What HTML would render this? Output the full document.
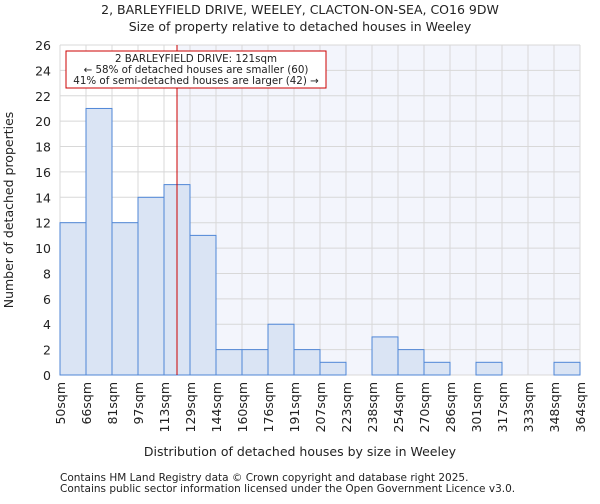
<!DOCTYPE html>
<html><head><meta charset="utf-8"><style>
body{margin:0;background:#fff;font-family:"DejaVu Sans","Liberation Sans",sans-serif;}
svg text{font-family:"DejaVu Sans","Liberation Sans",sans-serif;fill:#222}
</style></head><body>
<svg id="c" width="600" height="500"></svg>
<script>
const bins=["50sqm","66sqm","81sqm","97sqm","113sqm","129sqm","144sqm","160sqm","176sqm","191sqm","207sqm","223sqm","238sqm","254sqm","270sqm","286sqm","301sqm","317sqm","333sqm","348sqm","364sqm"];
const counts=[12,21,12,14,15,11,2,2,4,2,1,0,3,2,1,0,1,0,0,1];
const yTicks=[0,2,4,6,8,10,12,14,16,18,20,22,24,26];
const propIndex=4.5;
const svg=document.getElementById('c');const NS="http://www.w3.org/2000/svg";
const L=60,R=580,T=45,B=375,yMax=26;
const x=i=>L+(R-L)*i/counts.length;
const y=v=>B-(B-T)*v/yMax;
function mk(t,a,txt){const e=document.createElementNS(NS,t);for(const k in a)e.setAttribute(k,a[k]);if(txt!==undefined)e.textContent=txt;svg.appendChild(e);return e;}
const px=x(propIndex);
let e=mk('rect',{x:px,y:T,width:R-px,height:B-T,fill:'#f3f5fc'});


for(let i=0;i<=counts.length;i++){e=mk('line',{x1:x(i),x2:x(i),y1:T,y2:B,stroke:'#d8d8d8'});}
yTicks.forEach(v=>{e=mk('line',{x1:L,x2:R,y1:y(v),y2:y(v),stroke:'#d8d8d8'});
e=mk('text',{x:L-9,y:y(v)+5,'text-anchor':'end','font-size':12.5},v);});
counts.forEach((c,i)=>{if(!c)return;e=mk('rect',{x:x(i),y:y(c),width:x(i+1)-x(i),height:B-y(c),fill:'#dae4f4',stroke:'#4f86d6','stroke-width':1});

});
bins.forEach((b,i)=>{e=mk('text',{transform:`translate(${x(i)+5},382) rotate(-90)`,'text-anchor':'end','font-size':12.5},b);});
e=mk('line',{x1:px,x2:px,y1:T,y2:B,stroke:'#cc0000','stroke-width':1});
e=mk('rect',{x:66,y:51,width:260,height:37,fill:'#fff',stroke:'#cc0000'});
[["2 BARLEYFIELD DRIVE: 121sqm",62],["← 58% of detached houses are smaller (60)",73],["41% of semi-detached houses are larger (42) →",84]].forEach(([t,yy])=>{e=mk('text',{x:196,y:yy,'text-anchor':'middle','font-size':10.3},t);});
e=mk('text',{x:300,y:14,'text-anchor':'middle','font-size':12.5},"2, BARLEYFIELD DRIVE, WEELEY, CLACTON-ON-SEA, CO16 9DW");
e=mk('text',{x:300,y:31,'text-anchor':'middle','font-size':12.5},"Size of property relative to detached houses in Weeley");
e=mk('text',{x:300,y:456,'text-anchor':'middle','font-size':12.5},"Distribution of detached houses by size in Weeley");
e=mk('text',{transform:'translate(13,210) rotate(-90)','text-anchor':'middle','font-size':12.5},"Number of detached properties");
e=mk('text',{x:60,y:481,'font-size':10.5,fill:'#555'},"Contains HM Land Registry data © Crown copyright and database right 2025.");
e=mk('text',{x:60,y:492,'font-size':10.5,fill:'#555'},"Contains public sector information licensed under the Open Government Licence v3.0.");
</script>
</body></html>
